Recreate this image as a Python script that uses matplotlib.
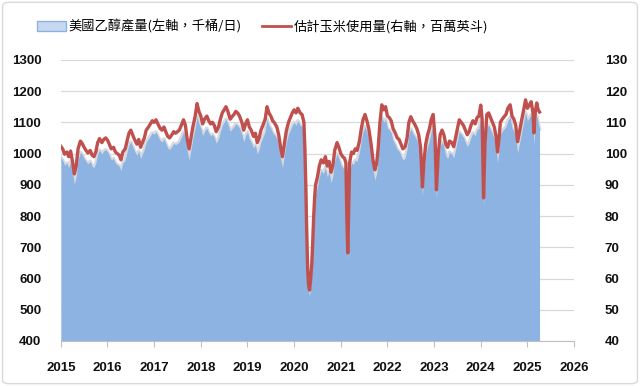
import numpy as np
import matplotlib
matplotlib.use("Agg")
import matplotlib.pyplot as plt
from matplotlib.patches import FancyBboxPatch

# decimal years (weekly-ish samples)
dates = [
    2015.00, 2015.04, 2015.08, 2015.13, 2015.17, 2015.21, 2015.25, 2015.29, 2015.33, 2015.37, 2015.42, 2015.46,
    2015.50, 2015.54, 2015.58, 2015.63, 2015.67, 2015.71, 2015.75, 2015.79, 2015.83, 2015.88, 2015.92, 2015.96,
    2016.00, 2016.04, 2016.08, 2016.13, 2016.17, 2016.21, 2016.25, 2016.29, 2016.33, 2016.38, 2016.42, 2016.46,
    2016.50, 2016.54, 2016.58, 2016.63, 2016.67, 2016.71, 2016.75, 2016.79, 2016.83, 2016.88, 2016.92, 2016.96,
    2017.00, 2017.04, 2017.08, 2017.13, 2017.17, 2017.21, 2017.25, 2017.29, 2017.33, 2017.38, 2017.42, 2017.46,
    2017.50, 2017.54, 2017.58, 2017.63, 2017.67, 2017.71, 2017.75, 2017.79, 2017.83, 2017.88, 2017.92, 2017.96,
    2018.00, 2018.04, 2018.08, 2018.13, 2018.17, 2018.21, 2018.25, 2018.29, 2018.33, 2018.38, 2018.42, 2018.46,
    2018.50, 2018.54, 2018.58, 2018.63, 2018.67, 2018.71, 2018.75, 2018.79, 2018.83, 2018.88, 2018.92, 2018.96,
    2019.00, 2019.04, 2019.08, 2019.13, 2019.17, 2019.21, 2019.25, 2019.29, 2019.33, 2019.38, 2019.42, 2019.46,
    2019.50, 2019.54, 2019.58, 2019.63, 2019.67, 2019.71, 2019.75, 2019.79, 2019.83, 2019.88, 2019.92, 2019.96,
    2020.00, 2020.04, 2020.08, 2020.13, 2020.17, 2020.21, 2020.23, 2020.25, 2020.27, 2020.29, 2020.31, 2020.33,
    2020.35, 2020.38, 2020.40, 2020.42, 2020.44, 2020.46, 2020.50, 2020.54, 2020.58, 2020.63, 2020.67, 2020.71,
    2020.75, 2020.79, 2020.83, 2020.87, 2020.92, 2020.96,
    2021.00, 2021.04, 2021.08, 2021.11, 2021.13, 2021.15, 2021.17, 2021.19, 2021.23, 2021.27, 2021.31, 2021.35,
    2021.40, 2021.44, 2021.48, 2021.52, 2021.56, 2021.60, 2021.65, 2021.69, 2021.73, 2021.77, 2021.80, 2021.84,
    2021.88, 2021.92, 2021.96,
    2022.00, 2022.04, 2022.08, 2022.12, 2022.17, 2022.21, 2022.25, 2022.29, 2022.33, 2022.38, 2022.42, 2022.46,
    2022.50, 2022.54, 2022.58, 2022.63, 2022.67, 2022.71, 2022.75, 2022.78, 2022.82, 2022.86, 2022.90, 2022.94,
    2022.98,
    2023.02, 2023.05, 2023.09, 2023.13, 2023.17, 2023.21, 2023.25, 2023.29, 2023.33, 2023.38, 2023.42, 2023.46,
    2023.50, 2023.54, 2023.58, 2023.63, 2023.67, 2023.71, 2023.75, 2023.79, 2023.83, 2023.88, 2023.92, 2023.96,
    2024.00, 2024.03, 2024.06, 2024.09, 2024.13, 2024.17, 2024.21, 2024.25, 2024.29, 2024.33, 2024.36, 2024.39,
    2024.42, 2024.46, 2024.50, 2024.54, 2024.58, 2024.63, 2024.67, 2024.71, 2024.75, 2024.79, 2024.83, 2024.88,
    2024.92, 2024.96,
    2025.00, 2025.04, 2025.08, 2025.12, 2025.14, 2025.17, 2025.20, 2025.23, 2025.26,
]

# US ethanol production, thousand barrels/day (left axis)
ethanol = [
    987, 979, 963, 970, 955, 973, 941, 902, 926, 979, 1004, 996,
    984, 975, 967, 975, 960, 955, 970, 999, 1011, 999, 1008, 1013,
    1006, 994, 979, 984, 970, 965, 960, 946, 970, 979, 1004, 1028,
    1037, 1023, 1008, 994, 1008, 984, 999, 1013, 1037, 1047, 1057, 1066,
    1062, 1069, 1057, 1042, 1037, 1047, 1033, 1018, 1013, 1023, 1033, 1028,
    1033, 1037, 1052, 1069, 1052, 1008, 979, 1013, 1047, 1081, 1119, 1095,
    1081, 1057, 1071, 1081, 1066, 1057, 1062, 1052, 1033, 1047, 1071, 1090,
    1100, 1110, 1095, 1071, 1079, 1086, 1095, 1090, 1081, 1062, 1037, 1057,
    1069, 1047, 1037, 1018, 1028, 999, 1013, 1037, 1052, 1071, 1110, 1090,
    1081, 1066, 1060, 1047, 1023, 984, 955, 994, 1033, 1062, 1076, 1090,
    1100, 1090, 1105, 1090, 1086, 1062, 984, 869, 724, 608, 560, 543,
    569, 627, 695, 772, 830, 869, 893, 926, 946, 936, 955, 926,
    941, 907, 926, 975, 999, 984,
    965, 955, 951, 936, 772, 658, 791, 936, 970, 965, 979, 975,
    1004, 1042, 1071, 1086, 1066, 1042, 994, 946, 915, 936, 979, 1062,
    1116, 1100, 1110,
    1081, 1076, 1066, 1042, 1028, 1013, 1008, 994, 979, 986, 1013, 1062,
    1079, 1066, 1057, 1042, 1023, 984, 862, 936, 994, 1023, 1042, 1071,
    1086,
    1013, 853, 965, 1023, 1037, 1023, 994, 984, 1004, 999, 986, 1013,
    1042, 1069, 1062, 1052, 1037, 1023, 1033, 1052, 1066, 1057, 1076, 1081,
    1115, 1071, 828, 994, 1086, 1090, 1076, 1062, 1047, 1016, 970, 1008,
    1062, 1071, 1079, 1086, 1105, 1116, 1081, 1071, 1052, 1002, 1033, 1071,
    1100, 1131,
    1105, 1115, 1125, 1090, 1029, 1095, 1121, 1100, 1078,
]

# estimated corn use, million bushels (right axis)
corn = [
    102.3, 101.5, 99.8, 100.5, 99.0, 100.8, 97.5, 93.5, 96.0, 101.5, 104.0, 103.2,
    102.0, 101.0, 100.2, 101.0, 99.5, 99.0, 100.5, 103.5, 104.8, 103.5, 104.5, 105.0,
    104.3, 103.0, 101.5, 102.0, 100.5, 100.0, 99.5, 98.0, 100.5, 101.5, 104.0, 106.5,
    107.5, 106.0, 104.5, 103.0, 104.5, 102.0, 103.5, 105.0, 107.5, 108.5, 109.5, 110.5,
    110.0, 110.8, 109.5, 108.0, 107.5, 108.5, 107.0, 105.5, 105.0, 106.0, 107.0, 106.5,
    107.0, 107.5, 109.0, 110.8, 109.0, 104.5, 101.5, 105.0, 108.5, 112.0, 116.0, 113.5,
    112.0, 109.5, 111.0, 112.0, 110.5, 109.5, 110.0, 109.0, 107.0, 108.5, 111.0, 113.0,
    114.0, 115.0, 113.5, 111.0, 111.8, 112.5, 113.5, 113.0, 112.0, 110.0, 107.5, 109.5,
    110.8, 108.5, 107.5, 105.5, 106.5, 103.5, 105.0, 107.5, 109.0, 111.0, 115.0, 113.0,
    112.0, 110.5, 109.8, 108.5, 106.0, 102.0, 99.0, 103.0, 107.0, 110.0, 111.5, 113.0,
    114.0, 113.0, 114.5, 113.0, 112.5, 110.0, 102.0, 90.0, 75.0, 63.0, 58.0, 56.3,
    59.0, 65.0, 72.0, 80.0, 86.0, 90.0, 92.5, 96.0, 98.0, 97.0, 99.0, 96.0,
    97.5, 94.0, 96.0, 101.0, 103.5, 102.0,
    100.0, 99.0, 98.5, 97.0, 80.0, 68.2, 82.0, 97.0, 100.5, 100.0, 101.5, 101.0,
    104.0, 108.0, 111.0, 112.5, 110.5, 108.0, 103.0, 98.0, 94.8, 97.0, 101.5, 110.0,
    115.6, 114.0, 115.0,
    112.0, 111.5, 110.5, 108.0, 106.5, 105.0, 104.5, 103.0, 101.5, 102.2, 105.0, 110.0,
    111.8, 110.5, 109.5, 108.0, 106.0, 102.0, 89.3, 97.0, 103.0, 106.0, 108.0, 111.0,
    112.5,
    105.0, 88.4, 100.0, 106.0, 107.5, 106.0, 103.0, 102.0, 104.0, 103.5, 102.2, 105.0,
    108.0, 110.8, 110.0, 109.0, 107.5, 106.0, 107.0, 109.0, 110.5, 109.5, 111.5, 112.0,
    115.5, 111.0, 85.8, 103.0, 112.5, 113.0, 111.5, 110.0, 108.5, 105.3, 100.5, 104.5,
    110.0, 111.0, 111.8, 112.5, 114.5, 115.6, 112.0, 111.0, 109.0, 103.8, 107.0, 111.0,
    114.0, 117.2,
    114.5, 115.5, 116.6, 113.0, 106.6, 113.5, 116.2, 114.0, 113.3,
]

years = list(range(2015, 2027))
left_ticks = list(range(400, 1301, 100))
right_ticks = list(range(40, 131, 10))

label_a = "美國乙醇產量(左軸，千桶/日)"
label_b = "估計玉米使用量(右軸，百萬英斗)"

plt.rcParams["font.family"] = ["Liberation Sans", "Noto Sans CJK TC", "DejaVu Sans"]

fig = plt.figure(figsize=(6.4, 3.86), dpi=100)
ax = fig.add_axes([0.095, 0.1166, 0.802, 0.7284])
ax2 = ax.twinx()

x = np.array(dates)
prod = np.array(ethanol)

ax.fill_between(x, 400, prod, color="#8db3e2", lw=0, zorder=2)
ax.plot(x, prod, color="#d6dae0", lw=2.5, zorder=1.5)
area_proxy = plt.Rectangle((0, 0), 1, 1, facecolor="#c6d9f1", edgecolor="#8db3e2", lw=1)

ax2.plot(x, corn, color="#c0504d", lw=2.4, zorder=3)
line_proxy, = ax2.plot([], [], color="#c0504d", lw=2.0)

ax.set_xlim(2015, 2026)
ax.set_ylim(400, 1300)
ax2.set_ylim(40, 130)

ax.set_yticks(left_ticks)
ax2.set_yticks(right_ticks)
ax.set_xticks(years)
ax.grid(axis="y", color="#d9d9d9", lw=0.9, zorder=0)
ax.set_axisbelow(True)

for a in (ax, ax2):
    for s in ("top", "left", "right"):
        a.spines[s].set_visible(False)
    a.spines["bottom"].set_color("#bfbfbf")
ax2.spines["bottom"].set_visible(False)

ax.tick_params(axis="y", length=0, pad=14, labelsize=9.5)
ax2.tick_params(axis="y", length=0, pad=22, labelsize=9.5)
ax.tick_params(axis="x", length=4, color="#bfbfbf", pad=11, labelsize=9.5)
for lab in ax.get_yticklabels() + ax2.get_yticklabels() + ax.get_xticklabels():
    lab.set_fontweight("bold")
    lab.set_color("#111111")

fig.legend([area_proxy, line_proxy], [label_a, label_b], loc="upper center",
           bbox_to_anchor=(0.41, 0.98), ncol=2, frameon=False, columnspacing=1.5,
           handlelength=2.2, handletextpad=0.2,
           prop={"family": ["Noto Sans CJK TC", "DejaVu Sans"], "size": 9.5})

frame = FancyBboxPatch((0.004, 0.006), 0.992, 0.988, boxstyle="round,pad=0,rounding_size=0.01",
                       transform=fig.transFigure, facecolor="none", edgecolor="#d9d9d9", lw=1)
fig.patches.append(frame)

fig.savefig("out.png", dpi=100)
